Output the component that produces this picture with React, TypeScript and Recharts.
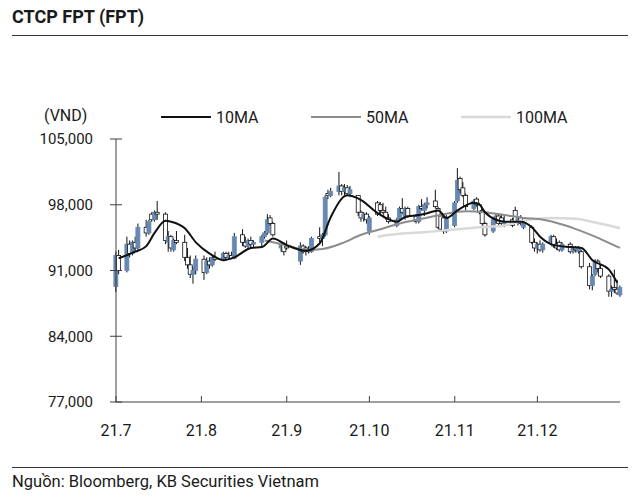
import React from 'react';
import { ComposedChart, Bar, Line, XAxis, YAxis } from 'recharts';

// trading days, Jul–Dec 2021 (MM-DD)
const DATES = [
  '07-01','07-02','07-05','07-06','07-07','07-08','07-09','07-12','07-13','07-14','07-15','07-16','07-19','07-20','07-21','07-22','07-23','07-26','07-27','07-28','07-29','07-30',
  '08-02','08-03','08-04','08-05','08-06','08-09','08-10','08-11','08-12','08-13','08-16','08-17','08-18','08-19','08-20','08-23','08-24','08-25','08-26','08-27','08-30','08-31',
  '09-01','09-06','09-07','09-08','09-09','09-10','09-13','09-14','09-15','09-16','09-17','09-20','09-21','09-22','09-23','09-24','09-27','09-28','09-29','09-30',
  '10-01','10-04','10-05','10-06','10-07','10-08','10-11','10-12','10-13','10-14','10-15','10-18','10-19','10-20','10-21','10-22','10-25','10-26','10-27','10-28','10-29',
  '11-01','11-02','11-03','11-04','11-05','11-08','11-09','11-10','11-11','11-12','11-15','11-16','11-17','11-18','11-19','11-22','11-23','11-24','11-25','11-26','11-29','11-30',
  '12-01','12-02','12-03','12-06','12-07','12-08','12-09','12-10','12-13','12-14','12-15','12-16','12-17','12-20','12-21','12-22','12-23','12-24','12-27','12-28','12-29','12-30','12-31',
];

// prices in thousand VND
const OPEN = [
  89.3,92.6,91.0,93.8,92.8,94.0,93.4,95.6,95.0,97.0,96.4,97.2,97.0,94.0,94.6,93.2,94.2,94.0,92.4,91.6,90.6,91.0,
  92.2,90.8,92.0,91.6,92.4,92.2,92.8,92.4,92.6,92.3,94.8,94.0,93.6,94.2,93.8,94.0,94.6,95.0,96.6,96.0,93.4,93.8,
  93.6,92.0,93.6,93.4,93.2,93.0,94.6,94.4,94.8,99.2,99.0,99.4,100.0,99.4,99.8,99.2,99.0,97.2,96.6,97.0,
  95.2,98.2,98.0,97.4,97.2,96.6,95.8,96.4,97.6,96.8,97.6,96.8,96.2,97.8,97.4,98.0,98.4,97.6,96.8,96.6,95.2,
  95.8,98.4,100.8,99.8,99.0,97.6,98.6,98.0,97.4,96.0,95.2,96.4,96.8,96.6,96.0,96.4,97.4,96.2,96.6,95.6,95.6,94.0,
  93.4,93.8,93.2,94.0,94.6,93.8,94.0,93.2,93.8,93.0,93.4,93.0,93.0,91.4,89.4,90.6,92.0,91.2,90.4,88.8,89.2,89.0,88.4,
];
const HIGH = [
  93.0,93.2,94.6,94.2,94.2,94.6,96.0,96.4,96.4,97.2,97.4,98.4,97.2,95.2,94.8,94.4,95.2,94.8,93.4,92.6,91.4,92.6,
  92.6,92.4,92.4,92.6,93.0,93.0,93.0,93.0,93.0,95.0,95.4,94.6,94.4,94.6,94.2,94.8,95.2,97.0,96.9,96.2,94.0,94.0,
  94.2,94.0,93.8,93.6,93.6,94.6,95.6,95.0,99.0,99.6,99.8,101.5,100.2,100.2,100.1,100.0,99.0,97.4,97.2,97.2,
  96.8,98.4,98.3,98.2,97.8,97.0,96.6,97.8,98.7,97.8,97.8,97.0,98.0,98.6,98.2,98.8,99.6,97.8,96.9,96.8,96.9,
  98.4,101.9,101.0,100.4,99.2,98.6,98.8,98.2,97.8,96.2,96.6,97.0,97.0,96.9,96.8,96.6,97.8,96.8,96.9,96.2,95.8,94.4,
  94.0,94.2,94.0,94.8,94.8,94.4,94.2,94.0,94.0,93.6,93.6,93.6,93.2,91.8,90.6,92.2,92.2,91.6,90.6,89.4,91.1,90.0,89.4,
];
const LOW = [
  88.7,90.6,90.8,92.4,92.6,93.0,93.2,94.6,94.8,96.2,96.2,96.4,93.8,93.0,93.0,93.0,93.8,92.0,91.2,90.2,89.6,90.6,
  90.0,90.6,91.2,91.4,92.0,92.0,92.2,92.2,92.2,92.2,93.6,93.4,93.2,93.4,93.4,93.6,94.4,94.8,95.8,94.6,93.0,92.6,
  93.2,91.6,92.8,92.6,92.8,92.9,94.0,93.6,94.6,98.6,98.8,99.0,99.0,99.0,98.9,98.8,96.8,96.2,96.2,96.0,
  94.8,96.8,97.0,97.0,96.4,96.0,95.6,96.2,97.0,96.4,96.6,96.0,96.0,97.4,96.8,97.6,97.6,95.4,95.2,94.9,95.0,
  95.6,98.2,99.2,98.8,97.4,97.4,97.8,97.0,95.8,94.6,95.0,96.0,95.8,95.8,95.6,95.6,96.0,95.8,95.8,95.4,93.8,93.0,
  92.8,93.0,92.9,93.8,93.4,93.2,93.0,93.0,92.8,92.8,92.9,92.8,91.2,89.0,88.9,90.4,90.8,90.2,88.2,88.2,88.6,88.4,88.2,
];
const CLOSE = [
  92.6,91.0,93.8,92.8,94.0,93.4,95.6,95.0,96.2,96.4,97.2,97.0,94.2,94.6,93.4,94.2,94.0,92.4,91.6,90.6,91.0,92.2,
  90.8,92.0,91.6,92.4,92.2,92.8,92.4,92.6,92.3,94.6,94.0,93.6,94.2,93.8,94.0,94.6,95.0,96.4,96.0,94.8,93.8,93.0,
  93.4,93.6,93.0,93.2,93.0,94.4,94.4,94.8,98.8,99.0,99.4,100.0,99.4,99.8,99.2,99.6,97.2,96.6,97.0,96.4,
  96.6,97.0,97.4,97.2,96.6,96.2,96.4,97.6,97.2,97.6,96.8,96.2,97.8,97.6,98.0,98.2,97.8,95.6,95.4,95.2,96.6,
  98.2,100.6,99.6,99.0,97.8,98.4,98.0,97.2,96.0,94.8,96.4,96.8,96.0,96.0,96.2,95.8,96.2,96.6,96.0,96.0,94.0,93.4,
  93.8,93.2,93.8,94.6,93.6,93.4,93.2,93.8,93.0,93.4,93.2,93.4,91.4,89.4,90.4,92.0,91.2,90.4,88.8,89.0,89.0,88.6,89.2,
];

// moving averages
const MA10_DATES = ['07-02','07-08','07-12','07-15','07-19','07-21','07-26','07-30','08-04','08-09','08-13','08-19','08-23','08-27','09-01','09-08','09-13','09-17','09-23','09-28','10-04','10-07','10-11','10-14','10-19','10-22','10-26','10-29','11-02','11-08','11-10','11-12','11-16','11-19','11-25','11-29','12-02','12-07','12-13','12-17','12-21','12-27','12-30'];
const MA10 = [92.3,93.0,93.6,95.0,96.3,96.2,95.5,94.0,92.8,92.1,92.4,93.4,93.5,94.4,93.7,93.1,93.9,96.7,99.0,98.5,97.1,96.6,96.2,96.7,96.9,97.1,97.4,96.6,97.4,98.2,98.0,97.2,96.4,96.2,96.2,95.6,94.6,93.7,93.5,93.4,92.1,91.1,89.7];
const MA50_DATES = ['08-24','09-01','09-08','09-14','09-21','09-28','10-05','10-12','10-20','10-28','11-05','11-12','11-19','11-26','12-03','12-10','12-16','12-22','12-28','12-31'];
const MA50 = [94.2,93.7,93.2,93.3,93.9,94.8,95.4,96.0,96.5,97.0,97.3,97.2,96.9,96.6,96.4,95.9,95.3,94.6,93.8,93.4];
const MA100_DATES = ['10-04','10-12','10-22','11-02','11-10','11-19','11-26','12-06','12-15','12-22','12-31'];
const MA100 = [94.6,94.9,95.1,95.4,95.6,95.8,96.3,96.6,96.5,96.1,95.5];

const MONTH_TICKS = ['07-01','08-01','09-01','10-01','11-01','12-01'];
const MONTH_LABELS = ['21.7','21.8','21.9','21.10','21.11','21.12'];
const Y_TICKS = [77, 84, 91, 98, 105];

const BLUE = '#6688b2';
const INK = '#1a1a1a';
const AXIS = '#404040';

// calendar day since Jul 1
const dayOf = (s: string) => {
  const [m, d] = s.split('-').map(Number);
  return Math.round((Date.UTC(2021, m - 1, d) - Date.UTC(2021, 6, 1)) / 86400000);
};

const candles = DATES.map((d, i) => ({
  x: dayOf(d),
  o: OPEN[i],
  h: HIGH[i],
  l: LOW[i],
  c: CLOSE[i],
  range: [LOW[i], HIGH[i]],
}));
const ma10 = MA10_DATES.map((d, i) => ({ x: dayOf(d), v: MA10[i] }));
const ma50 = MA50_DATES.map((d, i) => ({ x: dayOf(d), v: MA50[i] }));
const ma100 = MA100_DATES.map((d, i) => ({ x: dayOf(d), v: MA100[i] }));
const xTicks = MONTH_TICKS.map(dayOf);

const Candle = (props: any) => {
  const { x, y, width, height, payload } = props;
  if (!payload) return null;
  const { o, h, l, c } = payload;
  const top = Math.min(y, y + height);
  const span = Math.abs(height);
  const k = span / (h - l || 1);
  const yO = top + (h - o) * k;
  const yC = top + (h - c) * k;
  const cx = x + width / 2;
  const up = c >= o;
  const bw = 4;
  return (
    <g>
      <line x1={cx} x2={cx} y1={top} y2={top + span} stroke="#111" strokeWidth={1} />
      <rect
        x={cx - bw / 2}
        y={Math.min(yO, yC)}
        width={bw}
        height={Math.max(1, Math.abs(yO - yC))}
        fill={up ? BLUE : '#fff'}
        stroke={up ? BLUE : '#111'}
        strokeWidth={0.8}
      />
    </g>
  );
};

const YTick = ({ x, y, payload }: any) => (
  <g>
    <line x1={x - 6} x2={x + 6} y1={y} y2={y} stroke={AXIS} />
    <text x={x - 23} y={y} dy="0.35em" textAnchor="end" fontSize={15} fill={INK}>
      {(payload.value * 1000).toLocaleString('en-US')}
    </text>
  </g>
);

const XTick = ({ x, y, payload }: any) => (
  <g>
    <line x1={x} x2={x} y1={y} y2={y - 6} stroke={AXIS} />
    <text x={x} y={y + 28} dy="0.35em" textAnchor="middle" fontSize={16} fill={INK}>
      {MONTH_LABELS[xTicks.indexOf(payload.value)]}
    </text>
  </g>
);

const LegendItem = ({ left, color, label, width = 2 }: any) => (
  <div style={{ position: 'absolute', left, top: 107, display: 'flex', alignItems: 'center', height: 20 }}>
    <svg width={50} height={20}>
      <line x1={0} x2={50} y1={10} y2={10} stroke={color} strokeWidth={width} />
    </svg>
    <span style={{ marginLeft: 5, fontSize: 16 }}>{label}</span>
  </div>
);

export default function App() {
  return (
    <div
      style={{
        position: 'absolute',
        left: 0,
        top: 0,
        width: 640,
        height: 501,
        background: '#fff',
        fontFamily: 'Roboto, sans-serif',
        color: INK,
      }}
    >
      <div style={{ position: 'absolute', left: 12, top: 6, fontSize: 18, fontWeight: 700 }}>CTCP FPT (FPT)</div>
      <div style={{ position: 'absolute', left: 12, top: 35, width: 616, height: 1, background: '#333' }} />

      <div style={{ position: 'absolute', left: 44, top: 106, fontSize: 16, lineHeight: '20px' }}>(VND)</div>
      <LegendItem left={161} color="#111" label="10MA" />
      <LegendItem left={311} color="#8c8c8c" label="50MA" />
      <LegendItem left={461} color="#d9d9d9" label="100MA" width={2.5} />

      <div style={{ position: 'absolute', left: 0, top: 0 }}>
        <ComposedChart
          width={640}
          height={450}
          data={candles}
          margin={{ top: 139, right: 20, left: 56, bottom: 18 }}
        >
          <XAxis
            dataKey="x"
            type="number"
            domain={[0, 183]}
            ticks={xTicks}
            tick={<XTick />}
            tickSize={0}
            tickMargin={0}
            tickLine={false}
            axisLine={{ stroke: AXIS }}
            height={30}
            interval={0}
          />
          <YAxis
            domain={[77, 105]}
            ticks={Y_TICKS}
            tick={<YTick />}
            tickSize={0}
            tickMargin={0}
            tickLine={false}
            axisLine={{ stroke: AXIS }}
            width={60}
            allowDataOverflow
          />
          <Bar dataKey="range" barSize={3} shape={<Candle />} isAnimationActive={false} />
          <Line data={ma100} dataKey="v" type="monotone" stroke="#d9d9d9" strokeWidth={2.5} dot={false} isAnimationActive={false} />
          <Line data={ma50} dataKey="v" type="monotone" stroke="#8c8c8c" strokeWidth={2} dot={false} isAnimationActive={false} />
          <Line data={ma10} dataKey="v" type="monotone" stroke="#111" strokeWidth={2} dot={false} isAnimationActive={false} />
        </ComposedChart>
      </div>

      <div style={{ position: 'absolute', left: 12, top: 467, width: 616, height: 1, background: '#333' }} />
      <div style={{ position: 'absolute', left: 12, top: 472, fontSize: 16.5 }}>Nguồn: Bloomberg, KB Securities Vietnam</div>
    </div>
  );
}
